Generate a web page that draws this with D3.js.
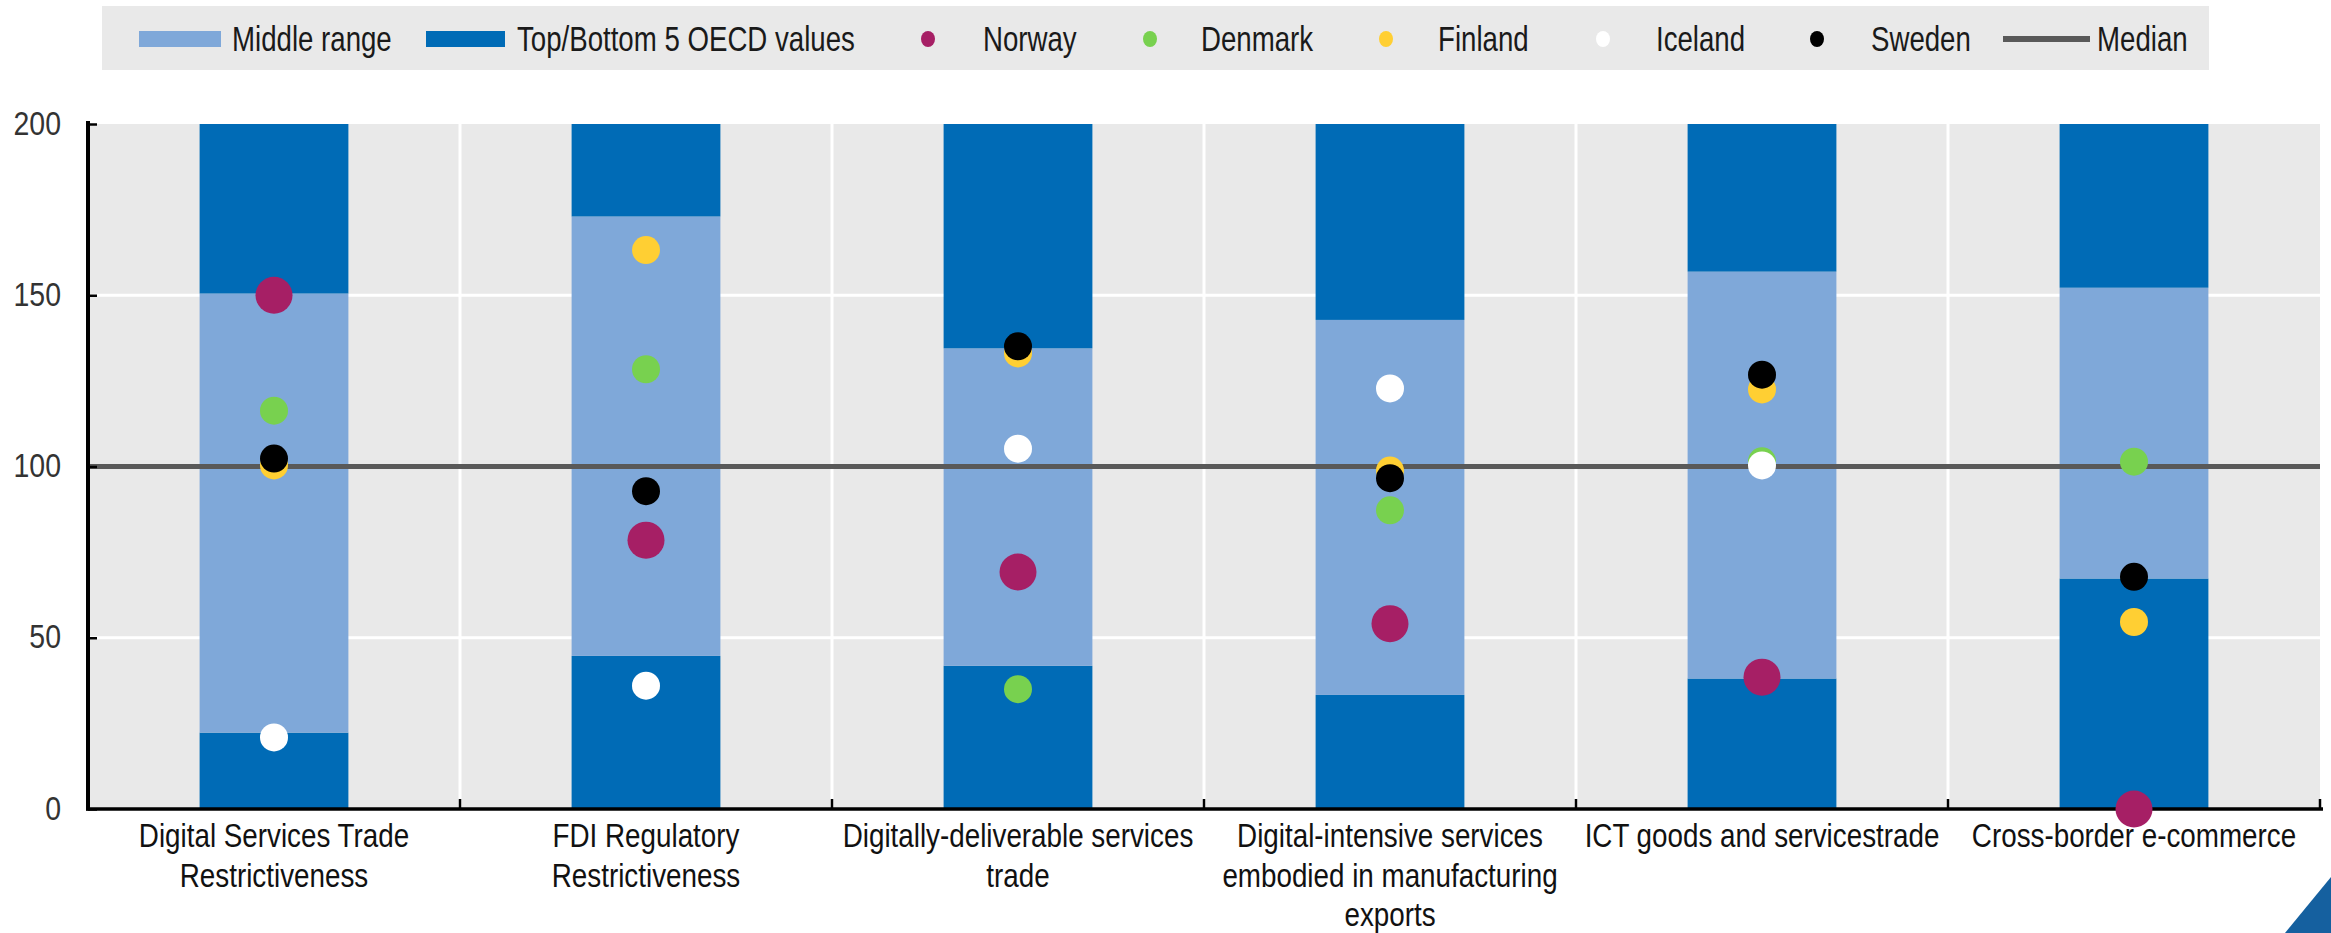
<!DOCTYPE html>
<html>
<head>
<meta charset="utf-8">
<script src="https://cdn.jsdelivr.net/npm/d3@7"></script>
<style>
  html, body { margin: 0; padding: 0; background: #ffffff; }
  svg { display: block; font-family: "Liberation Sans", Arial, Helvetica, sans-serif; }
</style>
</head>
<body>
<svg id="chart" width="2331" height="933"></svg>
<script>
// ---------------- DATA ----------------
const categories = [
  ["Digital Services Trade", "Restrictiveness"],
  ["FDI Regulatory", "Restrictiveness"],
  ["Digitally-deliverable services", "trade"],
  ["Digital-intensive services", "embodied in manufacturing", "exports"],
  ["ICT goods and servicestrade"],
  ["Cross-border e-commerce"]
];
const categoryKeys = ["DSTRI", "FDI", "DDS", "DIS", "ICT", "ECOM"];

// Top of the "bottom 5" band and bottom of the "top 5" band
const bottom5Upper = [22.3, 44.7, 41.8, 33.3, 38.1, 67.3];
const top5Lower    = [150.5, 173.0, 134.5, 142.8, 156.9, 152.2];
const axisMax = 200;

const norway  = [150.0, 78.5, 69.2, 54.1, 38.5, 0.0];
const denmark = [116.3, 128.4, 35.0, 87.2, 101.5, 101.4];
const finland = [100.3, 163.2, 133.0, 98.8, 122.5, 54.6];
const iceland = [20.9, 36.0, 105.2, 122.8, 100.3, null];
const sweden  = [102.3, 92.8, 135.1, 96.6, 126.8, 67.8];
const median  = 100;

const yTicks = [0, 50, 100, 150, 200];
const legendLabels = ["Middle range", "Top/Bottom 5 OECD values", "Norway", "Denmark", "Finland", "Iceland", "Sweden", "Median"];

// ---------------- STYLE ----------------
const C = {
  bg: "#e9e9e9",
  dark: "#006bb6",
  light: "#7fa8d9",
  norway: "#a61f65",
  denmark: "#78d14f",
  finland: "#ffcf33",
  iceland: "#ffffff",
  sweden: "#000000",
  median: "#595959"
};
const countries = [
  { name: "Norway",  values: norway,  color: C.norway,  r: 18.5 },
  { name: "Denmark", values: denmark, color: C.denmark, r: 14 },
  { name: "Finland", values: finland, color: C.finland, r: 14 },
  { name: "Iceland", values: iceland, color: C.iceland, r: 14 },
  { name: "Sweden",  values: sweden,  color: C.sweden,  r: 14 }
];

const svg = d3.select("#chart");
const pL = 88, pR = 2320, pT = 124, pB = 809;

const x = d3.scaleBand().domain(categoryKeys).range([pL, pR]).paddingInner(0.6).paddingOuter(0.3);
const xCell = d3.scaleBand().domain(categoryKeys).range([pL, pR]).padding(0);
const y = d3.scaleLinear().domain([0, axisMax]).range([pB, pT]);

// ---------- legend ----------
const legend = svg.append("g");
legend.append("rect").attr("x", 102).attr("y", 6).attr("width", 2107).attr("height", 64).attr("fill", C.bg);
const legendLayout = [
  { kind: "rect", color: C.light, sx: 139, sw: 82, tx: 232 },
  { kind: "rect", color: C.dark, sx: 426, sw: 79, tx: 517 },
  { kind: "dot", color: C.norway, sx: 928, tx: 983 },
  { kind: "dot", color: C.denmark, sx: 1150, tx: 1201 },
  { kind: "dot", color: C.finland, sx: 1386, tx: 1438 },
  { kind: "dot", color: C.iceland, sx: 1603, tx: 1656 },
  { kind: "dot", color: C.sweden, sx: 1817, tx: 1871 },
  { kind: "line", color: C.median, sx: 2003, sw: 87, tx: 2097 }
];
legendLayout.forEach((it, i) => {
  if (it.kind === "rect") {
    legend.append("rect").attr("x", it.sx).attr("y", 31).attr("width", it.sw).attr("height", 16).attr("fill", it.color);
  } else if (it.kind === "dot") {
    legend.append("ellipse").attr("cx", it.sx).attr("cy", 39).attr("rx", 7).attr("ry", 8).attr("fill", it.color);
  } else {
    legend.append("line").attr("x1", it.sx).attr("x2", it.sx + it.sw).attr("y1", 39).attr("y2", 39)
      .attr("stroke", it.color).attr("stroke-width", 6);
  }
  legend.append("g").attr("transform", `translate(${it.tx},51) scale(0.79,1)`)
    .append("text").attr("font-size", 35).attr("fill", "#1a1a1a").text(legendLabels[i]);
});

// ---------- plot background & grid ----------
svg.append("rect").attr("x", pL).attr("y", pT).attr("width", pR - pL).attr("height", pB - pT).attr("fill", C.bg);

svg.append("g").selectAll("line").data(yTicks.filter(t => t > 0 && t < axisMax)).join("line")
  .attr("x1", pL).attr("x2", pR).attr("y1", d => y(d)).attr("y2", d => y(d))
  .attr("stroke", "#ffffff").attr("stroke-width", 3);
svg.append("g").selectAll("line").data(categoryKeys.slice(1)).join("line")
  .attr("x1", d => xCell(d)).attr("x2", d => xCell(d)).attr("y1", pT).attr("y2", pB)
  .attr("stroke", "#ffffff").attr("stroke-width", 3);

// ---------- bands ----------
const bands = svg.append("g");
categoryKeys.forEach((k, i) => {
  const segs = [
    { y0: 0, y1: bottom5Upper[i], c: C.dark },
    { y0: bottom5Upper[i], y1: top5Lower[i], c: C.light },
    { y0: top5Lower[i], y1: axisMax, c: C.dark }
  ];
  bands.append("g").selectAll("rect").data(segs).join("rect")
    .attr("x", x(k)).attr("width", x.bandwidth())
    .attr("y", d => y(d.y1)).attr("height", d => y(d.y0) - y(d.y1))
    .attr("fill", d => d.c);
});

// ---------- median line ----------
svg.append("line").attr("x1", pL - 2).attr("x2", pR).attr("y1", y(median)).attr("y2", y(median))
  .attr("stroke", C.median).attr("stroke-width", 5);

// ---------- axes ----------
const yAxis = d3.axisLeft(y).tickValues(yTicks).tickSize(0).tickPadding(0).tickFormat(d3.format("d"));
const yg = svg.append("g").attr("transform", `translate(${pL},0)`).call(yAxis);
yg.select(".domain").remove();
yg.selectAll(".tick text").remove();
yg.selectAll(".tick").append("line").attr("x1", 0).attr("x2", 9).attr("stroke", "#000").attr("stroke-width", 2.5);
yg.selectAll(".tick").append("g").attr("transform", "translate(-27,10) scale(0.85,1)")
  .append("text").attr("text-anchor", "end").attr("font-size", 33.5).attr("fill", "#333")
  .text(d => d3.format("d")(d));
svg.append("line").attr("x1", pL).attr("x2", pL).attr("y1", pT - 3).attr("y2", pB + 1.5)
  .attr("stroke", "#000").attr("stroke-width", 4);

// x axis
svg.append("line").attr("x1", pL - 2).attr("x2", pR + 3).attr("y1", pB).attr("y2", pB)
  .attr("stroke", "#000").attr("stroke-width", 3.5);
const bounds = categoryKeys.map(k => xCell(k)).concat([pR]).slice(1);
svg.append("g").selectAll("line").data(bounds).join("line")
  .attr("x1", d => d).attr("x2", d => d).attr("y1", pB).attr("y2", pB - 10)
  .attr("stroke", "#000").attr("stroke-width", 2.5);

// x labels
const xl = svg.append("g");
categoryKeys.forEach((k, i) => {
  const cx = x(k) + x.bandwidth() / 2;
  categories[i].forEach((line, j) => {
    xl.append("g").attr("transform", `translate(${cx},${847 + j * 39.5}) scale(0.83,1)`)
      .append("text").attr("text-anchor", "middle").attr("font-size", 33.5).attr("fill", "#111").text(line);
  });
});

// ---------- dots ----------
const dots = svg.append("g");
countries.forEach(c => {
  dots.append("g").selectAll("circle")
    .data(categoryKeys.map((k, i) => ({ k, v: c.values[i] })).filter(d => d.v !== null)).join("circle")
    .attr("cx", d => x(d.k) + x.bandwidth() / 2)
    .attr("cy", d => y(d.v))
    .attr("r", c.r)
    .attr("fill", c.color);
});

// ---------- corner logo triangle ----------
svg.append("path").attr("d", d3.line()([[2285, 933], [2331, 877], [2331, 933]]) + "Z").attr("fill", "#15609f");
</script>
</body>
</html>
